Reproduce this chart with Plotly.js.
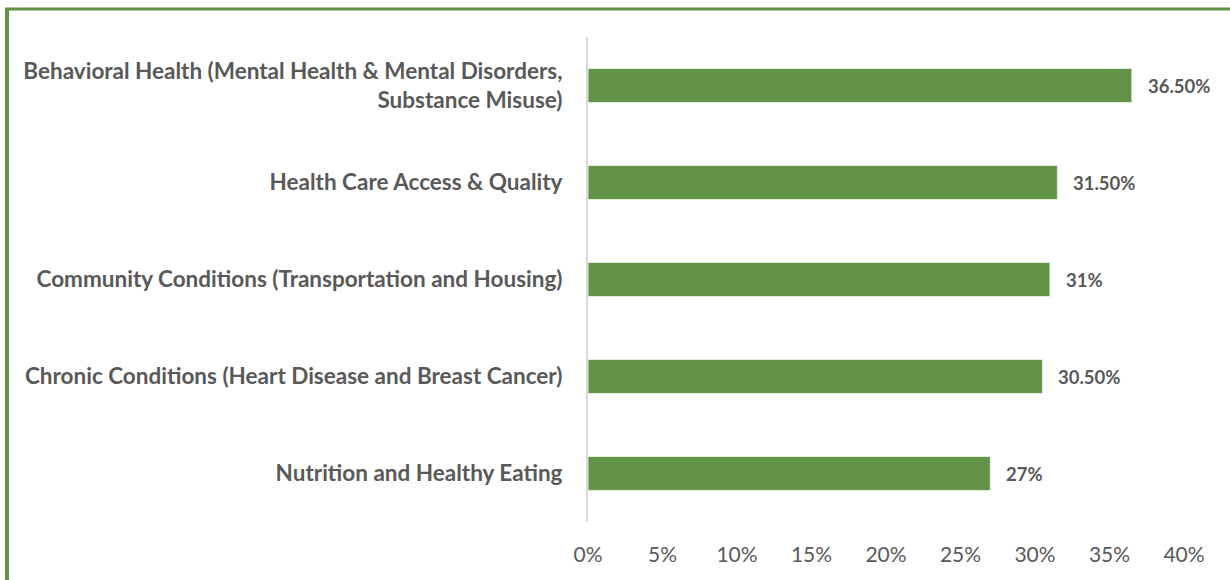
<!DOCTYPE html>
<html><head><meta charset="utf-8">
<script src="https://cdn.plot.ly/plotly-3.0.1.min.js"></script>
<style>body{margin:0;background:#fff}#chart{width:1230px;height:580px}</style>
</head><body><div id="chart"></div>
<script>
const categories = [
  "Behavioral Health (Mental Health & Mental Disorders,<br>Substance Misuse)",
  "Health Care Access & Quality",
  "Community Conditions (Transportation and Housing)",
  "Chronic Conditions (Heart Disease and Breast Cancer)",
  "Nutrition and Healthy Eating"
];
const values = [36.5, 31.5, 31, 30.5, 27];
const valueLabels = ["36.50%", "31.50%", "31%", "30.50%", "27%"];
const xTickVals = [0, 5, 10, 15, 20, 25, 30, 35, 40];
const xTickText = ["0%", "5%", "10%", "15%", "20%", "25%", "30%", "35%", "40%"];

const green = "#629148";
const trace = {
  type: "bar", orientation: "h",
  x: values, y: categories,
  marker: {color: green, line: {color: "#e2efd9", width: 1}},
  hoverinfo: "none"
};
const annotations = values.map((v, i) => ({
  x: v, y: categories[i], xref: "x", yref: "y",
  text: "<b>" + valueLabels[i] + "</b>", showarrow: false,
  xanchor: "left", xshift: 14,
  font: {family: "Lato, 'Open Sans', sans-serif", size: 18.5, color: "#595959"}
}));

const T = 37, B = 522, L = 588, R = 1184;
const px = x => (x - L) / (R - L);
const py = y => (B - y) / (B - T);

const layout = {
  width: 1230, height: 580,
  margin: {l: L, r: 1230 - R, t: T, b: 580 - B},
  paper_bgcolor: "#fff", plot_bgcolor: "#fff",
  showlegend: false,
  bargap: 0.65,
  font: {family: "Lato, 'Open Sans', sans-serif", color: "#595959"},
  xaxis: {
    range: [0, 40], tickvals: xTickVals, ticktext: xTickText,
    showgrid: false, zeroline: false, showline: false,
    ticks: "outside", ticklen: 14, tickcolor: "rgba(0,0,0,0)",
    tickfont: {size: 21, color: "#595959"}, fixedrange: true
  },
  yaxis: {
    autorange: "reversed", showgrid: false, zeroline: false,
    showline: true, linecolor: "#d9d9d9", linewidth: 2,
    ticks: "outside", ticklen: 19, tickcolor: "rgba(0,0,0,0)",
    tickfont: {size: 22.5, color: "#595959", weight: "bold"}, fixedrange: true
  },
  annotations: annotations,
  shapes: [
    {type: "line", xref: "paper", yref: "paper",
     x0: px(7), x1: px(7), y0: py(8), y1: py(590),
     line: {color: green, width: 4}},
    {type: "line", xref: "paper", yref: "paper",
     x0: px(5), x1: px(1240), y0: py(9), y1: py(9),
     line: {color: green, width: 3}}
  ]
};
Plotly.newPlot("chart", [trace], layout, {displayModeBar: false, staticPlot: true});
</script></body></html>
